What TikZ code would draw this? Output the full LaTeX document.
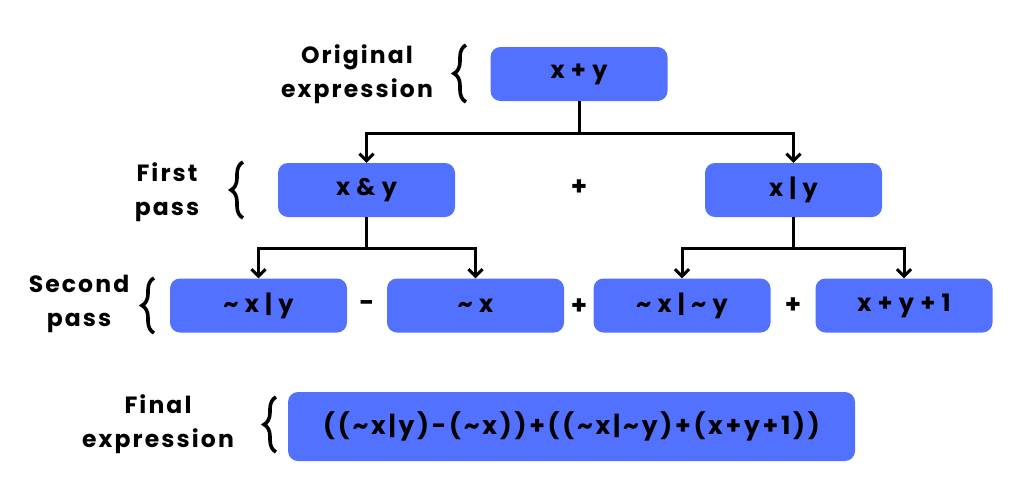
\documentclass[tikz,border=0pt]{standalone}
\usepackage{fontspec}
\setmainfont{Poppins}
\newfontfamily\lblfont[LetterSpace=9]{Poppins}
\newfontfamily\bxfont[LetterSpace=26]{Poppins}
\newfontfamily\finfont[LetterSpace=11]{Poppins}
\usetikzlibrary{arrows.meta,decorations.pathreplacing}
\definecolor{boxblue}{HTML}{5271FF}
\begin{document}
\begin{tikzpicture}[x=1pt,y=-1pt,
  box/.style={fill=boxblue, rounded corners=10pt, minimum width=177pt, minimum height=54pt, inner sep=0pt,
    font=\bxfont\bfseries\fontsize{24}{28}\selectfont},
  finbox/.style={fill=boxblue, rounded corners=10pt, minimum width=567pt, minimum height=69pt, inner sep=0pt,
    font=\finfont\bfseries\fontsize{25}{28}\selectfont},
  lbl/.style={align=center, inner sep=0pt, font=\lblfont\bfseries\fontsize{23.5}{34}\selectfont},
  op/.style={inner sep=0pt, font=\bfseries\fontsize{26}{28}\selectfont},
  conn/.style={line width=3pt},
  arr/.style={conn, -{Straight Barb[length=7pt,width=14pt]}},
  brc/.style={decorate, decoration={brace, amplitude=12pt, aspect=0.5}, line width=3.6pt}]
\useasboundingbox (0,0) rectangle (1024,498);

% boxes
\node[box] (orig) at (579,74) {x+y};
\node[box] (xandy) at (366.5,190) {x\&y};
\node[box] (xory) at (793.5,190) {x|y};
\node[box] (s1) at (258.5,305.5) {\textasciitilde x|y};
\node[box] (s2) at (475.5,305.5) {\textasciitilde x};
\node[box] (s3) at (682,305.5) {\textasciitilde x|\textasciitilde y};
\node[box] (s4) at (904,305.5) {x+y+1};
\node[finbox] (final) at (571.5,426.5) {((\textasciitilde x|y)-(\textasciitilde x))+((\textasciitilde x|\textasciitilde y)+(x+y+1))};

% operators
\node[op] (op1) at (579,188) {+};
\node[op] (op2) at (367,306) {-};
\node[op] (op3) at (579,307) {+};
\node[op] (op4) at (793,306) {+};

% labels
\node[lbl] (l1) at (357,74) {Original\\expression};
\node[lbl] (l2) at (167,192.5) {First\\pass};
\node[lbl] (l3) at (79,304) {Second\\pass};
\node[lbl] (l4) at (158,424.5) {Final\\expression};

% braces
\coordinate (b1a) at (466,102); \coordinate (b1b) at (466,45);
\coordinate (b2a) at (243,218); \coordinate (b2b) at (243,162);
\coordinate (b3a) at (154,333); \coordinate (b3b) at (154,278);
\coordinate (b4a) at (276,452); \coordinate (b4b) at (276,397);
\draw[brc] (b1a) -- (b1b);
\draw[brc] (b2a) -- (b2b);
\draw[brc] (b3a) -- (b3b);
\draw[brc] (b4a) -- (b4b);

% connectors
\coordinate (j1) at (579,133);
\coordinate (j2) at (366.5,248);
\coordinate (j3) at (793.5,248);
\draw[conn] (orig.south) -- (j1);
\draw[arr] (j1) -| (xandy.north);
\draw[arr] (j1) -| (xory.north);
\draw[conn] (xandy.south) -- (j2);
\draw[arr] (j2) -| (s1.north);
\draw[arr] (j2) -| (s2.north);
\draw[conn] (xory.south) -- (j3);
\draw[arr] (j3) -| (s3.north);
\draw[arr] (j3) -| (s4.north);
\end{tikzpicture}
\end{document}
